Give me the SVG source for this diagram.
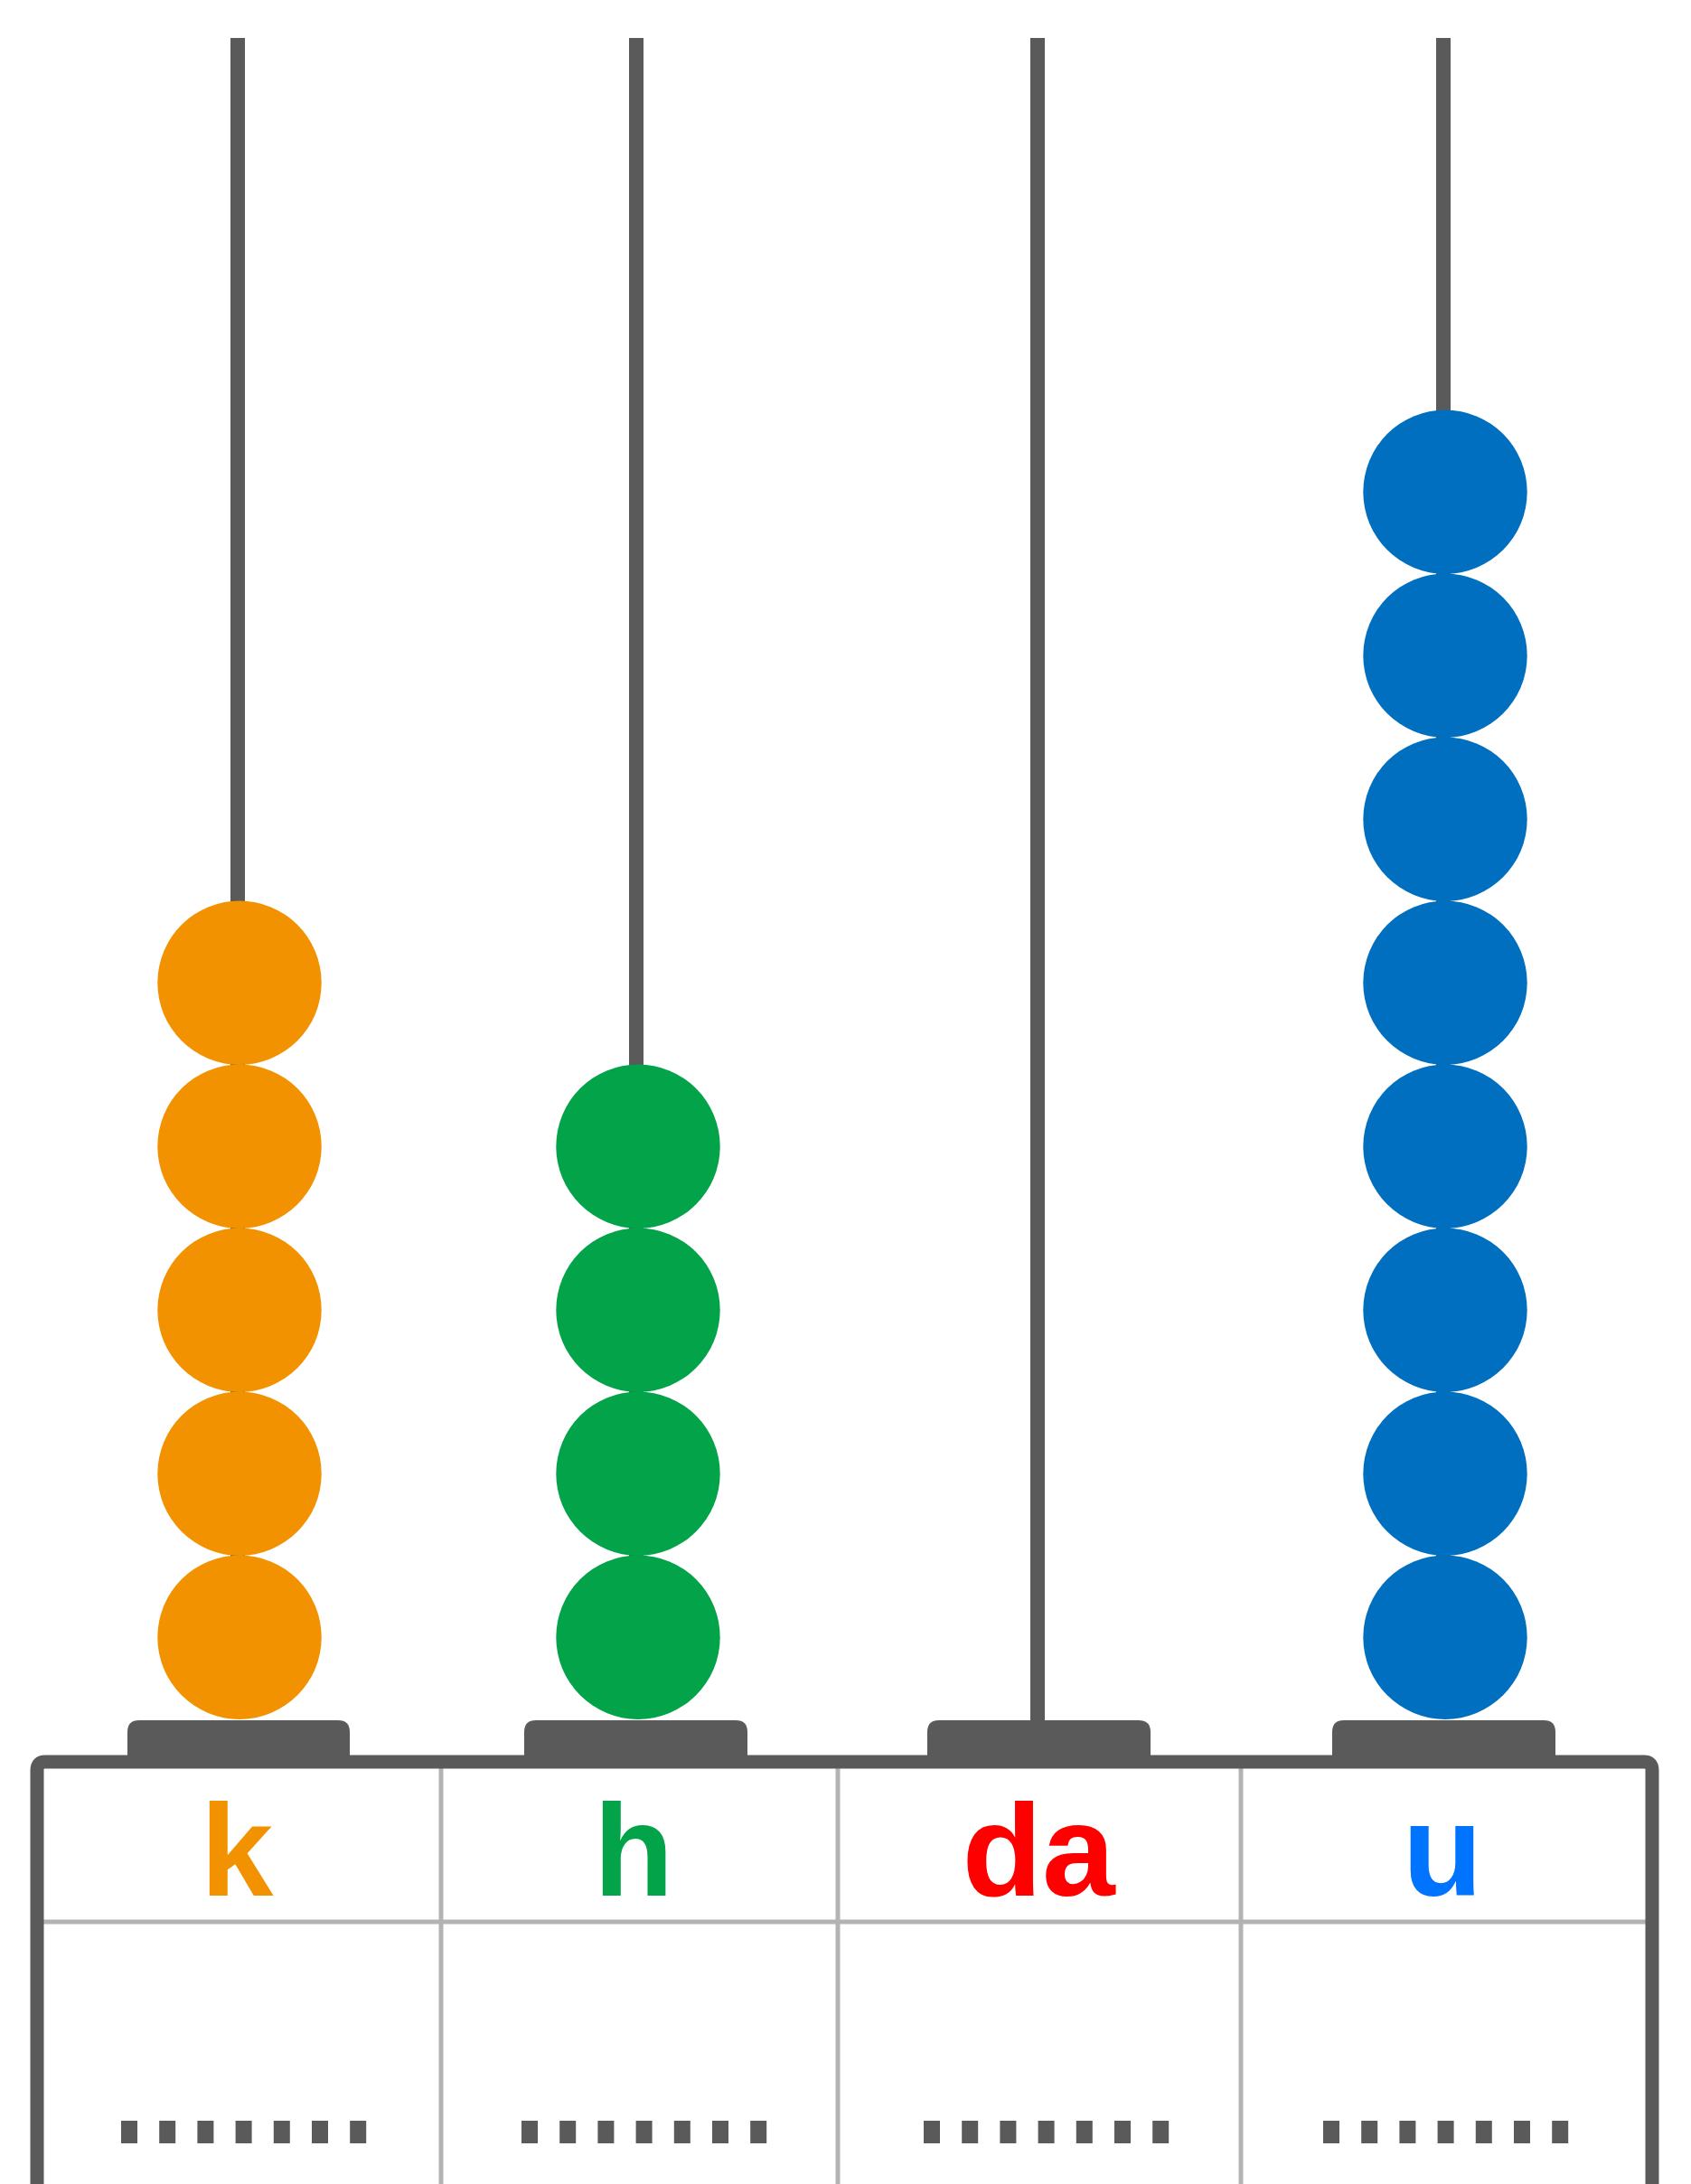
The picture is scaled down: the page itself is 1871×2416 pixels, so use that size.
<svg xmlns="http://www.w3.org/2000/svg" width="1871" height="2416" viewBox="0 0 1871 2416">
<style>
.rod{stroke:#5a5a5a;stroke-width:16;fill:none}
.base{fill:#5a5a5a}
.frame{fill:none;stroke:#5a5a5a;stroke-width:15}
.div{stroke:#b3b3b3;stroke-width:5;fill:none}
.dash{stroke:#5a5a5a;stroke-width:25;stroke-dasharray:18 24.2;fill:none}
.lbl{font-family:"Liberation Sans",Arial,sans-serif;font-weight:bold;font-size:145px;text-anchor:middle}
.o{fill:#f39200}.g{fill:#03a34a}.b{fill:#006fbf}
</style>
<rect width="1871" height="2416" fill="#ffffff"/>
<g id="rods">
<line class="rod" x1="263" y1="42" x2="263" y2="1900"/>
<line class="rod" x1="704" y1="42" x2="704" y2="1900"/>
<line class="rod" x1="1148" y1="42" x2="1148" y2="1906"/>
<line class="rod" x1="1597" y1="42" x2="1597" y2="1900"/>
</g>
<g id="bases">
<path class="base" d="M141 1952 V1916 Q141 1903 154 1903 H374 Q387 1903 387 1916 V1952 Z"/>
<path class="base" d="M580 1952 V1916 Q580 1903 593 1903 H814 Q827 1903 827 1916 V1952 Z"/>
<path class="base" d="M1026 1952 V1916 Q1026 1903 1039 1903 H1260 Q1273 1903 1273 1916 V1952 Z"/>
<path class="base" d="M1474 1952 V1916 Q1474 1903 1487 1903 H1708 Q1721 1903 1721 1916 V1952 Z"/>
</g>
<g id="beads-k">
<circle class="o" cx="265" cy="1087.2" r="90.7"/>
<circle class="o" cx="265" cy="1268.2" r="90.7"/>
<circle class="o" cx="265" cy="1449.2" r="90.7"/>
<circle class="o" cx="265" cy="1630.2" r="90.7"/>
<circle class="o" cx="265" cy="1811.2" r="90.7"/>
</g>
<g id="beads-h">
<circle class="g" cx="706" cy="1268.2" r="90.7"/>
<circle class="g" cx="706" cy="1449.2" r="90.7"/>
<circle class="g" cx="706" cy="1630.2" r="90.7"/>
<circle class="g" cx="706" cy="1811.2" r="90.7"/>
</g>
<g id="beads-u">
<circle class="b" cx="1599" cy="544.2" r="90.7"/>
<circle class="b" cx="1599" cy="725.2" r="90.7"/>
<circle class="b" cx="1599" cy="906.2" r="90.7"/>
<circle class="b" cx="1599" cy="1087.2" r="90.7"/>
<circle class="b" cx="1599" cy="1268.2" r="90.7"/>
<circle class="b" cx="1599" cy="1449.2" r="90.7"/>
<circle class="b" cx="1599" cy="1630.2" r="90.7"/>
<circle class="b" cx="1599" cy="1811.2" r="90.7"/>
</g>
<g id="table">
<line class="div" x1="488" y1="1956" x2="488" y2="2416"/>
<line class="div" x1="927" y1="1956" x2="927" y2="2416"/>
<line class="div" x1="1373" y1="1956" x2="1373" y2="2416"/>
<line class="div" x1="48" y1="2126" x2="1821" y2="2126"/>
<path class="frame" d="M41 2416 V1958 Q41 1949 50 1949 H1819 Q1828 1949 1828 1958 V2416"/>
</g>
<g id="labels">
<text class="lbl" x="262" y="2097" fill="#f39200">k</text>
<text class="lbl" x="701" y="2097" fill="#03a34a">h</text>
<text class="lbl" x="1149" y="2097" fill="#ff0000">da</text>
<text class="lbl" x="1596" y="2097" fill="#0073ff">u</text>
</g>
<g id="answers">
<line class="dash" x1="134" y1="2358.5" x2="406" y2="2358.5"/>
<line class="dash" x1="577" y1="2358.5" x2="849" y2="2358.5"/>
<line class="dash" x1="1022" y1="2358.5" x2="1294" y2="2358.5"/>
<line class="dash" x1="1464" y1="2358.5" x2="1736" y2="2358.5"/>
</g>
</svg>
